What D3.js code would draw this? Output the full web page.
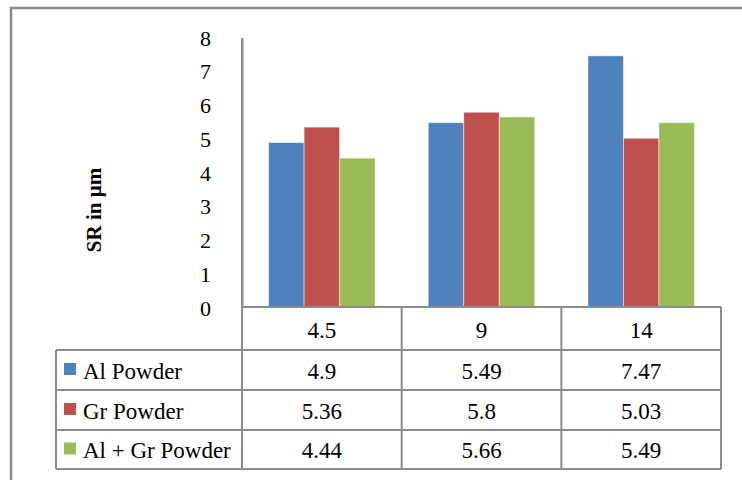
<!DOCTYPE html>
<html><head><meta charset="utf-8">
<script src="https://cdn.jsdelivr.net/npm/d3@7"></script>
<style>body{margin:0;background:#fff}svg{display:block}</style>
</head><body>
<svg id="c" width="742" height="480" font-family="Liberation Serif"></svg>
<script>
const categories = ["4.5", "9", "14"];
const seriesNames = ["Al Powder", "Gr Powder", "Al + Gr Powder"];
const alPowder = [4.9, 5.49, 7.47];
const grPowder = [5.36, 5.8, 5.03];
const alGrPowder = [4.44, 5.66, 5.49];
const tableLabels = [["4.9","5.49","7.47"],["5.36","5.8","5.03"],["4.44","5.66","5.49"]];
const yTicks = [0,1,2,3,4,5,6,7,8];
const colors = ["#4F81BD", "#C0504D", "#9BBB59"];
const yTitle = "SR in µm";

const FONT = "Liberation Serif";
const series = [alPowder, grPowder, alGrPowder];
const svg = d3.select("#c");
const grid = "#8c8c8c";

// outer frame
svg.append("rect").attr("x",11).attr("y",8).attr("width",760).attr("height",500)
  .attr("fill","none").attr("stroke","#8a8a8a").attr("stroke-width",2.5);

const plotL = 242, plotR = 721, plotT = 38, plotB = 308;
const x = d3.scaleBand().domain(categories).range([plotL, plotR]).paddingInner(0).paddingOuter(0);
const y = d3.scaleLinear().domain([0, 8]).range([plotB, plotT]);
// bar width: 3 bars + 1.5 bar gap (gap width 150%)
const bw = x.bandwidth()/4.5;
const xs = d3.scaleLinear().domain([0,3]).range([0.75*bw, 3.75*bw]);

// bars
series.forEach((vals, si) => {
  svg.append("g").selectAll("rect").data(vals).join("rect")
    .attr("x", (d,i) => x(categories[i]) + xs(si))
    .attr("y", d => y(d))
    .attr("width", bw)
    .attr("height", d => y(0) - y(d))
    .attr("fill", colors[si])
    .attr("stroke", "rgba(255,255,255,0.6)").attr("stroke-width",0.8);
});

// y axis
const yAxis = d3.axisLeft(y).tickValues(yTicks).tickSize(0).tickPadding(31).tickFormat(d3.format("d"));
const ya = svg.append("g").attr("transform",`translate(${plotL},0)`).call(yAxis);
ya.attr("font-family", FONT).attr("font-size", 22);
ya.select(".domain").attr("stroke", grid).attr("stroke-width",2);
ya.selectAll("text").attr("font-family", FONT).attr("font-size",22).attr("fill","#000");

// y title
svg.append("text").attr("transform","translate(101,210) rotate(-90)")
  .attr("text-anchor","middle").attr("font-size",21).attr("font-weight","bold")
  .attr("font-family",FONT).attr("fill","#000").text(yTitle);

// data table
const rowY = [307, 350, 390, 430, 469];
const legL = 56;
const tl = svg.append("g").attr("stroke", grid).attr("stroke-width",2).attr("fill","none");
tl.append("line").attr("x1",plotL).attr("x2",plotR).attr("y1",rowY[0]).attr("y2",rowY[0]);
for (let r=1;r<rowY.length;r++) tl.append("line").attr("x1",legL).attr("x2",plotR).attr("y1",rowY[r]).attr("y2",rowY[r]);
tl.append("line").attr("x1",legL).attr("x2",legL).attr("y1",rowY[1]).attr("y2",rowY[4]);
[plotL, ...categories.map(c => x(c)+x.bandwidth())].forEach(xx =>
  tl.append("line").attr("x1",xx).attr("x2",xx).attr("y1",xx===plotL?plotT:rowY[0]).attr("y2",rowY[4]));

const txt = sel => sel.attr("font-family",FONT).attr("font-size",23).attr("fill","#000");

// header labels
svg.append("g").selectAll("text").data(categories).join("text")
  .attr("x", d => x(d)+x.bandwidth()/2).attr("y", (rowY[0]+rowY[1])/2+9.5)
  .attr("text-anchor","middle").call(txt).text(d=>d);

// rows
tableLabels.forEach((row, ri) => {
  const cy = (rowY[ri+1]+rowY[ri+2])/2;
  svg.append("rect").attr("x",64).attr("y",cy-7).attr("width",12).attr("height",12).attr("fill",colors[ri]);
  svg.append("text").attr("x",83).attr("y",cy+8.5).call(txt).text(seriesNames[ri]);
  svg.append("g").selectAll("text").data(row).join("text")
    .attr("x",(d,i)=> x(categories[i])+x.bandwidth()/2).attr("y",cy+8.5)
    .attr("text-anchor","middle").call(txt).text(d=>d);
});
</script>
</body></html>
